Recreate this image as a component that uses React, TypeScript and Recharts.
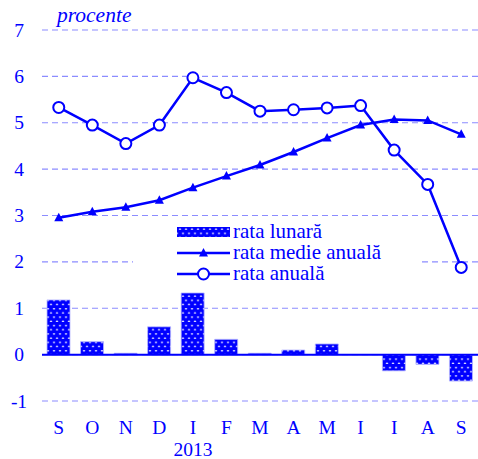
import React from 'react';
import { ComposedChart, Bar, Line, XAxis, YAxis, CartesianGrid, ReferenceLine, Legend } from 'recharts';

const months = ['S', 'O', 'N', 'D', 'I', 'F', 'M', 'A', 'M', 'I', 'I', 'A', 'S'];
const monthlyRate = [1.18, 0.28, 0.03, 0.6, 1.33, 0.33, 0.03, 0.1, 0.23, 0, -0.35, -0.21, -0.57];
const avgAnnualRate = [2.95, 3.08, 3.18, 3.33, 3.6, 3.85, 4.09, 4.37, 4.67, 4.95, 5.07, 5.05, 4.75];
const annualRate = [5.33, 4.95, 4.55, 4.95, 5.97, 5.65, 5.25, 5.28, 5.32, 5.37, 4.41, 3.67, 1.88];
const yTicks = [-1, 0, 1, 2, 3, 4, 5, 6, 7];
const yearLabel = '2013';
const yearIndex = 4;

const data = months.map((m, i) => ({
  m,
  idx: i,
  lunara: monthlyRate[i],
  medie: avgAnnualRate[i],
  anuala: annualRate[i],
}));

const BLUE = '#0000ff';
const FONT = 'Liberation Serif';

const XTick = (props: any) => {
  const { x, payload, index } = props;
  return (
    <g>
      <text x={x} y={427} textAnchor="middle" dominantBaseline="central" fill={BLUE} fontFamily={FONT} fontSize={19.5}>
        {payload.value}
      </text>
      {index === yearIndex && (
        <text x={x} y={449} textAnchor="middle" dominantBaseline="central" fill={BLUE} fontFamily={FONT} fontSize={19.5}>
          {yearLabel}
        </text>
      )}
    </g>
  );
};

const YTick = (props: any) => {
  const { y, payload } = props;
  return (
    <text x={19} y={y} textAnchor="middle" dominantBaseline="central" fill={BLUE} fontFamily={FONT} fontSize={19.5}>
      {payload.value}
    </text>
  );
};

const Triangle = (props: any) => {
  const { cx, cy } = props;
  if (cx == null || cy == null) return null;
  return <polygon points={`${cx},${cy - 5} ${cx - 4.5},${cy + 3.5} ${cx + 4.5},${cy + 3.5}`} fill={BLUE} />;
};

const Circle = (props: any) => {
  const { cx, cy } = props;
  if (cx == null || cy == null) return null;
  return <circle cx={cx} cy={cy} r={5.5} fill="#fff" stroke={BLUE} strokeWidth={2} />;
};

const LegendContent = () => {
  const rowStyle: React.CSSProperties = { display: 'flex', alignItems: 'center', height: 21 };
  const textStyle: React.CSSProperties = { color: BLUE, fontFamily: FONT, fontSize: 21, marginLeft: 3, lineHeight: '21px', whiteSpace: 'nowrap' };
  return (
    <div style={{ background: '#fff', width: 288, height: 58, paddingLeft: 44, boxSizing: 'border-box', paddingTop: 0 }}>
      <div style={rowStyle}>
        <svg width={53} height={10}>
          <rect x={0} y={0} width={53} height={10} fill="url(#dotsPattern)" />
        </svg>
        <span style={textStyle}>rata lunară</span>
      </div>
      <div style={rowStyle}>
        <svg width={53} height={12}>
          <line x1={0} y1={6} x2={53} y2={6} stroke={BLUE} strokeWidth={2.5} />
          <polygon points="26.5,1 22,9.5 31,9.5" fill={BLUE} />
        </svg>
        <span style={textStyle}>rata medie anuală</span>
      </div>
      <div style={rowStyle}>
        <svg width={53} height={14}>
          <line x1={0} y1={7} x2={53} y2={7} stroke={BLUE} strokeWidth={2.5} />
          <circle cx={26.5} cy={7} r={5.5} fill="#fff" stroke={BLUE} strokeWidth={2} />
        </svg>
        <span style={textStyle}>rata anuală</span>
      </div>
    </div>
  );
};

export default function App() {
  return (
    <div style={{ position: 'absolute', left: 0, top: 0, width: 478, height: 459, background: '#fff' }}>
      <svg width={0} height={0} style={{ position: 'absolute' }}>
        <defs>
          <pattern id="dotsPattern" width={6} height={8.4} patternUnits="userSpaceOnUse">
            <rect x={0} y={0} width={6} height={8.4} fill={BLUE} />
            <ellipse cx={3} cy={2.1} rx={1.3} ry={0.8} fill="#d8d8ff" />
            <ellipse cx={0} cy={6.3} rx={1.3} ry={0.8} fill="#d8d8ff" />
            <ellipse cx={6} cy={6.3} rx={1.3} ry={0.8} fill="#d8d8ff" />
          </pattern>
        </defs>
      </svg>
      <ComposedChart width={478} height={459} data={data} margin={{ top: 30, right: 0, bottom: 0, left: 0 }}>
        <CartesianGrid vertical={false} horizontal stroke="#8c8cff" strokeDasharray="6 4" strokeWidth={1.2} />
        <XAxis dataKey="m" axisLine={false} tickLine={false} height={58} interval={0} tick={<XTick />} />
        <YAxis
          domain={[-1, 7]}
          ticks={yTicks}
          axisLine={false}
          tickLine={false}
          width={42}
          interval={0}
          tick={<YTick />}
        />
        <Bar dataKey="lunara" barSize={23} fill="url(#dotsPattern)" stroke="#b8b8ff" strokeWidth={0.8} isAnimationActive={false} />
        <ReferenceLine y={0} stroke={BLUE} strokeWidth={2} />
        <Line dataKey="medie" stroke={BLUE} strokeWidth={2.5} dot={<Triangle />} activeDot={false} isAnimationActive={false} />
        <Line dataKey="anuala" stroke={BLUE} strokeWidth={2.5} dot={<Circle />} activeDot={false} isAnimationActive={false} />
        <Legend
          layout="horizontal"
          verticalAlign="middle"
          align="center"
          content={<LegendContent />}
          wrapperStyle={{ position: 'absolute', left: 133, top: 221, width: 288, height: 58 }}
        />
        <text x={57} y={22} fill={BLUE} fontFamily={FONT} fontStyle="italic" fontSize={21.5}>
          procente
        </text>
      </ComposedChart>
    </div>
  );
}
